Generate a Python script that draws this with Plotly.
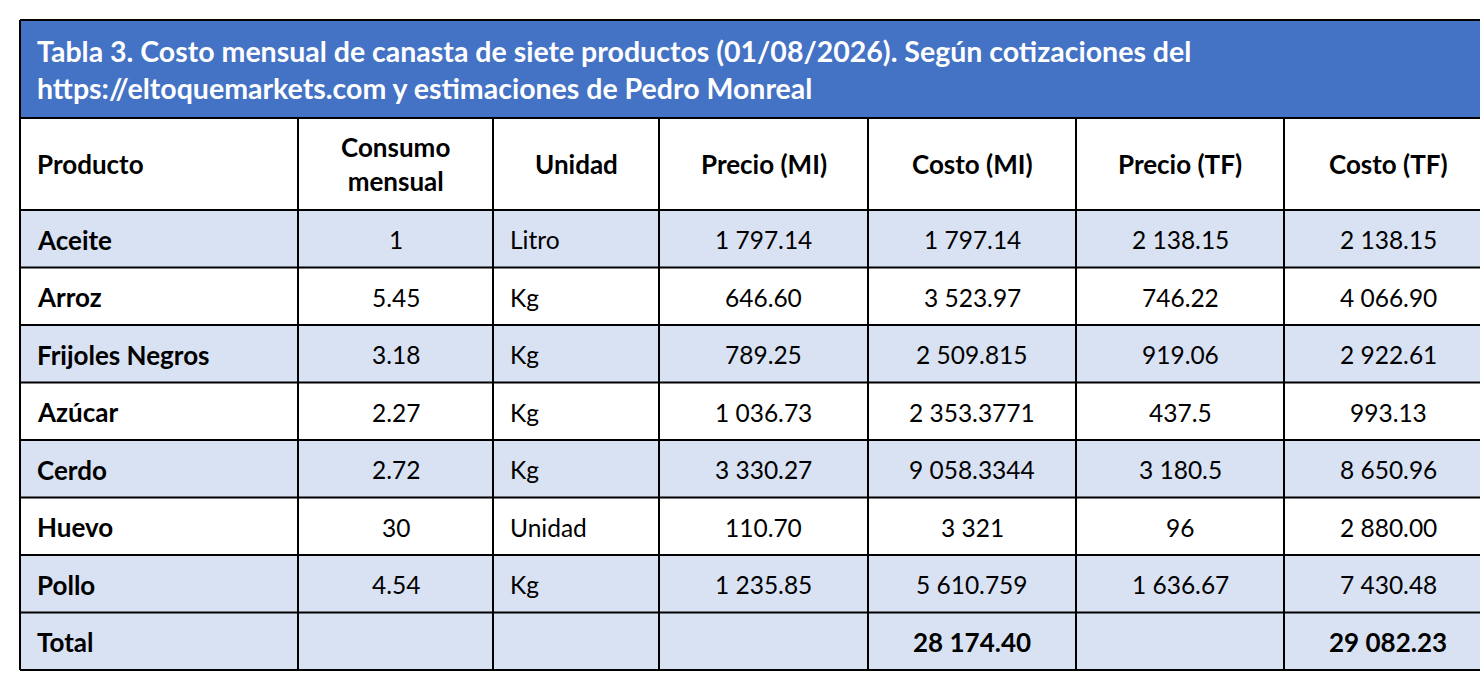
import plotly.graph_objects as go

# ---- data ----
title_lines = [
    "Tabla 3. Costo mensual de canasta de siete productos (01/08/2026). Según cotizaciones del",
    "https://eltoquemarkets.com y estimaciones de Pedro Monreal",
]
headers = ["Producto", "Consumo<br>mensual", "Unidad", "Precio (MI)", "Costo (MI)", "Precio (TF)", "Costo (TF)"]
productos = ["Aceite", "Arroz", "Frijoles Negros", "Azúcar", "Cerdo", "Huevo", "Pollo"]
consumo = ["1", "5.45", "3.18", "2.27", "2.72", "30", "4.54"]
unidad = ["Litro", "Kg", "Kg", "Kg", "Kg", "Unidad", "Kg"]
precio_mi = ["1 797.14", "646.60", "789.25", "1 036.73", "3 330.27", "110.70", "1 235.85"]
costo_mi = ["1 797.14", "3 523.97", "2 509.815", "2 353.3771", "9 058.3344", "3 321", "5 610.759"]
precio_tf = ["2 138.15", "746.22", "919.06", "437.5", "3 180.5", "96", "1 636.67"]
costo_tf = ["2 138.15", "4 066.90", "2 922.61", "993.13", "8 650.96", "2 880.00", "7 430.48"]
total_label = "Total"
total_mi = "28 174.40"
total_tf = "29 082.23"

# ---- layout / style ----
W, H = 1480, 680
col_edges = [20, 298, 493, 659, 868, 1076, 1284, 1492]
top = 20
title_h = 98
header_h = 92
row_h = 57.5
BLUE = "#4472C4"
LIGHT = "#D9E2F3"
WHITE = "#FFFFFF"
FONT = "Lato"
FS = 24.5
FS_B = 26
FS_T = 28.5
body_align = ["left", "center", "left", "center", "center", "center", "center"]
header_align = ["left", "center", "center", "center", "center", "center", "center"]
row_fills = [LIGHT, WHITE, LIGHT, WHITE, LIGHT, WHITE, LIGHT, LIGHT]
pad = 15

rows = [list(r) for r in zip(productos, consumo, unidad, precio_mi, costo_mi, precio_tf, costo_tf)]
rows.append([total_label, "", "", "", total_mi, "", total_tf])

fig = go.Figure()
shapes = []
ann = []

header_top = top + title_h
body_top = header_top + header_h
n = len(rows)
row_tops = [body_top + i * row_h for i in range(n)]
bottom = body_top + n * row_h

# title bar
shapes.append(dict(type="rect", x0=col_edges[0], x1=col_edges[-1], y0=top, y1=header_top,
                   fillcolor=BLUE, line=dict(width=0), layer="below"))
for i, t in enumerate(title_lines):
    ann.append(dict(x=col_edges[0] + pad, y=top + 31 + i * 37, text="<b>" + t + "</b>",
                    xanchor="left", yanchor="middle", showarrow=False,
                    font=dict(family=FONT, size=FS_T, color="white")))

# body fills
for i, rt in enumerate(row_tops):
    shapes.append(dict(type="rect", x0=col_edges[0], x1=col_edges[-1], y0=rt, y1=rt + row_h,
                       fillcolor=row_fills[i], line=dict(width=0), layer="below"))


def cell_x(j, align):
    if align == "left":
        return col_edges[j] + pad, "left"
    return (col_edges[j] + col_edges[j + 1]) / 2, "center"


# header texts
for j, h in enumerate(headers):
    x, xa = cell_x(j, header_align[j])
    ann.append(dict(x=x, y=header_top + header_h / 2, text="<b>" + h + "</b>", xanchor=xa,
                    yanchor="middle", showarrow=False, align="center",
                    font=dict(family=FONT, size=FS_B, color="black")))

# body texts
for i, r in enumerate(rows):
    yc = row_tops[i] + row_h / 2
    for j, v in enumerate(r):
        if v == "":
            continue
        bold = (j == 0) or (i == n - 1)
        x, xa = cell_x(j, body_align[j])
        ann.append(dict(x=x, y=yc + 1, text=("<b>" + v + "</b>") if bold else v, xanchor=xa,
                        yanchor="middle", showarrow=False,
                        font=dict(family=FONT, size=FS_B if bold else FS, color="black")))

# grid lines
LW = 2
hlines = [top, header_top] + row_tops + [bottom]
for y in hlines:
    shapes.append(dict(type="line", x0=col_edges[0], x1=col_edges[-1], y0=y, y1=y,
                       line=dict(color="black", width=LW)))
shapes.append(dict(type="line", x0=col_edges[0], x1=col_edges[0], y0=top, y1=bottom,
                   line=dict(color="black", width=LW)))
for x in col_edges[1:]:
    shapes.append(dict(type="line", x0=x, x1=x, y0=header_top, y1=bottom,
                       line=dict(color="black", width=LW)))

fig.update_layout(
    width=W, height=H,
    margin=dict(l=0, r=0, t=0, b=0),
    paper_bgcolor="white", plot_bgcolor="white",
    xaxis=dict(range=[0, W], visible=False, fixedrange=True),
    yaxis=dict(range=[H, 0], visible=False, fixedrange=True),
    shapes=shapes, annotations=ann, showlegend=False,
)
fig.write_html("out.html", config={"displayModeBar": False},
               post_script="document.body.style.margin='0';document.body.style.overflow='hidden';")
